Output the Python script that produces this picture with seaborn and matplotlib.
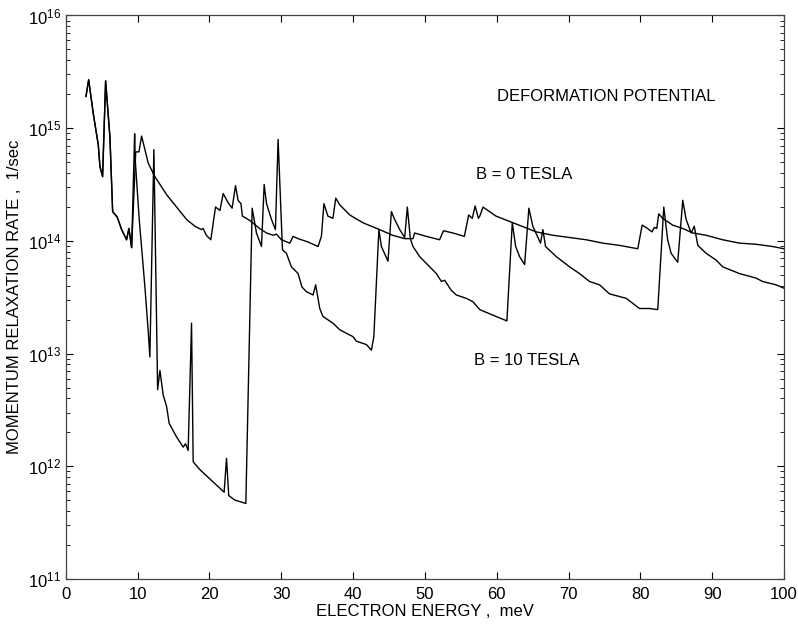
import numpy as np
import pandas as pd
import matplotlib
matplotlib.use("Agg")
import matplotlib.pyplot as plt
import seaborn as sns
from matplotlib.ticker import LogLocator, MultipleLocator

# energies in meV, rates stored as log10(1/sec)
shared_energy = [2.82, 3.2, 3.84, 4.54, 4.77, 5.14, 5.56, 6.16, 6.54, 7.18, 7.79, 8.48, 8.8, 9.18]
shared_log_rate = [15.28, 15.43, 15.13, 14.85, 14.66, 14.57, 15.42, 14.92, 14.26, 14.21, 14.10, 14.01, 14.11, 13.94]

b0_energy = [9.75, 10.2, 10.57, 11.49, 12.42, 14.05, 15.44, 16.83, 17.99, 18.9, 19.14, 19.57, 20.2,
             20.86, 21.47, 21.93, 22.6, 23.17, 23.64, 24.0, 24.4, 24.6, 25.66, 27.0, 27.96, 28.87,
             29.34, 30.04, 31.2, 31.66, 32.35, 33.74, 35.13, 35.6, 35.95, 36.5, 37.2, 37.6, 38.15,
             39.54, 41.4, 43.7, 45.5, 47.19, 48.35, 48.58, 50.2, 52.05, 52.6, 53.9, 55.5, 56.1,
             56.6, 57.0, 57.45, 57.65, 58.1, 59.9, 62.3, 65.5, 67.8, 70.14, 72.46, 74.77, 77.1,
             79.64, 80.25, 81.0, 81.6, 81.96, 82.28, 82.56, 83.1, 84.5, 85.9, 87.3, 89.15, 91.46,
             93.78, 96.1, 98.4, 100.0]
b0_log_rate = [14.79, 14.79, 14.93, 14.69, 14.57, 14.41, 14.30, 14.19, 14.13, 14.10, 14.11, 14.05, 14.01,
               14.30, 14.27, 14.42, 14.34, 14.29, 14.49, 14.36, 14.33, 14.22, 14.18, 14.11, 14.07, 14.05,
               14.06, 14.01, 13.98, 14.04, 14.02, 13.99, 13.95, 14.04, 14.33, 14.22, 14.20, 14.38, 14.32,
               14.23, 14.16, 14.10, 14.05, 14.02, 14.02, 14.07, 14.04, 14.01, 14.09, 14.07, 14.04, 14.23,
               14.20, 14.31, 14.20, 14.22, 14.30, 14.22, 14.16, 14.08, 14.05, 14.03, 14.01, 13.98, 13.96,
               13.93, 14.14, 14.11, 14.08, 14.12, 14.11, 14.24, 14.20, 14.14, 14.11, 14.07, 14.05, 14.01,
               13.98, 13.97, 13.95, 13.93]

b10_energy = [9.6, 9.68, 10.24, 11.03, 11.49, 11.72, 12.28, 12.8, 13.12, 13.58, 14.05, 14.41, 15.44,
              16.36, 16.69, 17.05, 17.52, 17.75, 18.68, 22.06, 22.39, 22.7, 23.55, 25.08, 25.96, 26.56,
              27.26, 27.63, 27.96, 28.65, 29.2, 29.57, 30.18, 30.73, 31.42, 32.35, 32.9, 33.5, 34.44,
              34.8, 35.37, 35.8, 37.2, 38.18, 40.0, 40.47, 41.86, 42.56, 42.9, 43.6, 43.95, 44.87,
              45.34, 45.8, 46.5, 47.19, 47.56, 47.98, 48.35, 49.28, 50.67, 51.6, 52.3, 52.76, 53.69,
              54.38, 55.77, 56.7, 57.65, 59.5, 61.42, 62.17, 62.64, 63.19, 63.89, 64.48, 65.03, 66.1,
              66.43, 66.8, 68.3, 70.14, 71.53, 72.92, 74.32, 75.7, 78.03, 79.88, 81.27, 82.42, 83.26,
              83.8, 84.28, 85.2, 85.9, 86.37, 87.07, 87.5, 88.0, 89.15, 90.54, 91.46, 93.78, 96.1,
              97.0, 98.9, 100.0]
b10_log_rate = [14.95, 14.72, 14.19, 13.59, 13.20, 12.97, 14.81, 12.68, 12.85, 12.63, 12.53, 12.38, 12.26,
                12.17, 12.20, 12.14, 13.27, 12.04, 11.97, 11.77, 12.07, 11.74, 11.70, 11.67, 14.29, 14.07,
                13.95, 14.50, 14.33, 14.19, 14.10, 14.90, 13.92, 13.89, 13.77, 13.71, 13.59, 13.55, 13.52,
                13.61, 13.40, 13.33, 13.27, 13.21, 13.15, 13.11, 13.08, 13.03, 13.15, 14.10, 13.95, 13.82,
                14.26, 14.19, 14.10, 14.03, 14.30, 14.02, 13.95, 13.86, 13.77, 13.71, 13.64, 13.65, 13.56,
                13.52, 13.49, 13.46, 13.39, 13.34, 13.29, 14.16, 13.95, 13.86, 13.79, 14.29, 14.13, 13.98,
                14.10, 13.95, 13.86, 13.77, 13.71, 13.64, 13.61, 13.53, 13.49, 13.40, 13.40, 13.39, 14.30,
                14.01, 13.89, 13.81, 14.36, 14.19, 14.07, 14.13, 13.96, 13.89, 13.83, 13.77, 13.71, 13.67,
                13.64, 13.61, 13.58]

df0 = pd.DataFrame({"energy": shared_energy + b0_energy,
                    "rate": 10 ** np.array(shared_log_rate + b0_log_rate)})
df10 = pd.DataFrame({"energy": shared_energy + b10_energy,
                     "rate": 10 ** np.array(shared_log_rate + b10_log_rate)})

sns.set_style("ticks")
plt.rcParams["font.family"] = ["Liberation Sans", "DejaVu Sans"]
plt.rcParams["mathtext.fontset"] = "custom"
plt.rcParams["mathtext.rm"] = "Liberation Sans"
for k in ["text.color", "axes.labelcolor", "xtick.color", "ytick.color"]:
    plt.rcParams[k] = "black"
plt.rcParams["ytick.minor.visible"] = True

fig = plt.figure(figsize=(7.98, 6.27), dpi=100)
ax = fig.add_axes([0.0823, 0.0766, 0.9002, 0.8987])

sns.lineplot(data=df0, x="energy", y="rate", ax=ax, sort=False, estimator=None,
             color="black", lw=1.0)
sns.lineplot(data=df10, x="energy", y="rate", ax=ax, sort=False, estimator=None,
             color="black", lw=1.0)

ax.set_yscale("log")
ax.set_xlim(0, 100)
ax.set_ylim(1e11, 1e16)
ax.xaxis.set_major_locator(MultipleLocator(10))
ax.yaxis.set_major_locator(LogLocator(base=10, numticks=10))
ax.yaxis.set_minor_locator(LogLocator(base=10, subs=np.arange(2, 10) * 1.0, numticks=100))
ax.tick_params(which="both", direction="in", top=True, right=True, labelsize=12)
ax.tick_params(axis="x", which="minor", bottom=False, top=False)
ax.tick_params(which="major", length=5, width=0.8)
ax.tick_params(axis="y", which="minor", length=3, width=0.6, left=True, right=True)
ax.tick_params(axis="x", pad=6)
for s in ax.spines.values():
    s.set_linewidth(0.9)
    s.set_color("#444444")

ax.set_xlabel("ELECTRON ENERGY ,  meV", fontsize=12, labelpad=1)
ax.set_ylabel("MOMENTUM RELAXATION RATE ,  1/sec", fontsize=12, labelpad=4)

ax.text(60.1, 10 ** 15.277, "DEFORMATION POTENTIAL", fontsize=12, va="center", ha="left")
ax.text(57.1, 10 ** 14.585, "B = 0 TESLA", fontsize=12, va="center", ha="left")
ax.text(56.9, 10 ** 12.94, "B = 10 TESLA", fontsize=12, va="center", ha="left")

plt.savefig("out.png", dpi=100)
plt.close()
